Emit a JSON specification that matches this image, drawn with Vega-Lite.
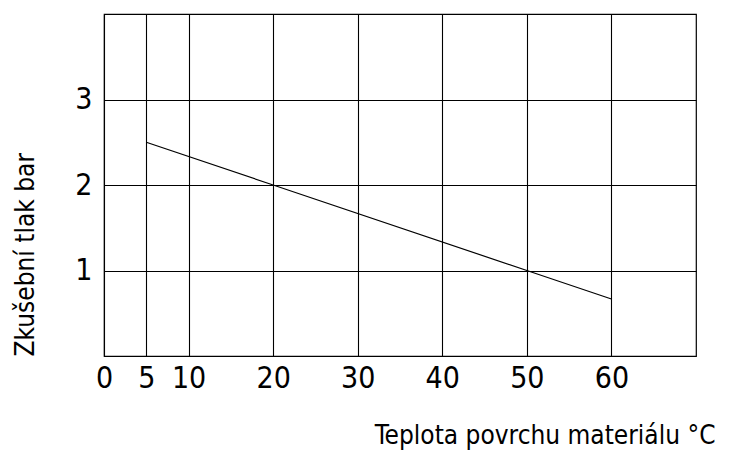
{
  "$schema": "https://vega.github.io/schema/vega-lite/v6.json",
  "autosize": {"type": "none"},
  "padding": {"left": 104, "top": 14, "right": 34, "bottom": 94},
  "width": 592,
  "height": 342,
  "background": "white",
  "config": {
    "view": {"stroke": "#000000", "strokeWidth": 1.2},
    "font": "DejaVu Sans Condensed, Liberation Sans, sans-serif",
    "axis": {
      "labelFont": "DejaVu Sans Condensed, Liberation Sans, sans-serif",
      "titleFont": "DejaVu Sans Condensed, Liberation Sans, sans-serif",
      "labelFontSize": 30,
      "titleFontSize": 26,
      "labelFontWeight": 200,
      "titleFontWeight": 200,
      "labelColor": "#000000",
      "titleColor": "#000000",
      "gridColor": "#000000",
      "gridOpacity": 1,
      "gridWidth": 1.1,
      "ticks": false,
      "domain": false
    }
  },
  "data": {
    "values": [
      {"t": 5, "p": 2.5},
      {"t": 20, "p": 2.0},
      {"t": 50, "p": 1.0},
      {"t": 60, "p": 0.667}
    ]
  },
  "mark": {"type": "line", "color": "#000000", "strokeWidth": 1.2},
  "encoding": {
    "x": {
      "field": "t",
      "type": "quantitative",
      "scale": {"domain": [0, 70], "nice": false, "zero": false},
      "axis": {
        "values": [0, 5, 10, 20, 30, 40, 50, 60],
        "grid": true,
        "labelPadding": 7,
        "labelFlush": false,
        "labelOverlap": false,
        "title": "Teplota povrchu materiálu °C",
        "titleAnchor": "end",
        "titleAlign": "right",
        "titleBaseline": "alphabetic",
        "titleX": 611,
        "titleY": 87
      }
    },
    "y": {
      "field": "p",
      "type": "quantitative",
      "scale": {"domain": [0, 4], "nice": false},
      "axis": {
        "values": [1, 2, 3],
        "grid": true,
        "labelPadding": 12,
        "labelBaseline": "middle",
        "title": "Zkušební tlak bar",
        "titleAngle": -90,
        "titleAlign": "left",
        "titleBaseline": "middle",
        "titleX": -79,
        "titleY": 342
      }
    }
  }
}
